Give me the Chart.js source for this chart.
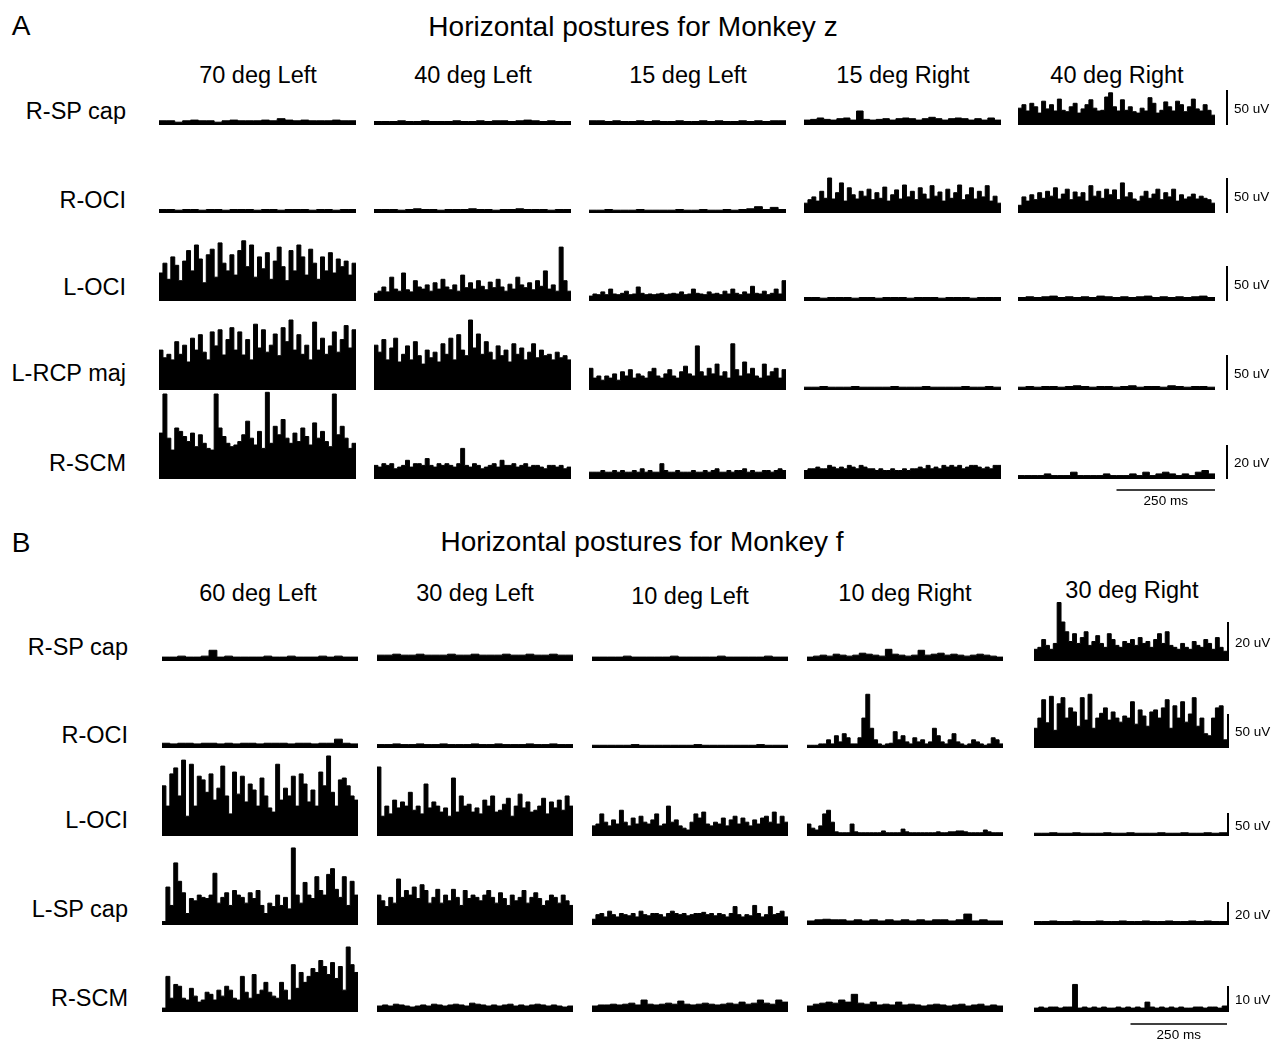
<!DOCTYPE html>
<html>
<head>
<meta charset="utf-8">
<script src="https://cdn.jsdelivr.net/npm/chart.js@4.4.1/dist/chart.umd.min.js"></script>
<style>
  body { margin: 0; background: #fff; }
  #fig { position: relative; width: 1274px; height: 1040px; overflow: hidden;
         font-family: "Liberation Sans", Arial, Helvetica, sans-serif; color: #000; }
  .c { position: absolute; white-space: nowrap; transform: translate(-50%, -50%); }
  .r { position: absolute; white-space: nowrap; transform: translate(-100%, -50%); }
  .l { position: absolute; white-space: nowrap; transform: translate(0, -50%); }
  canvas { position: absolute; }
</style>
</head>
<body>
<div id="fig"></div>
<script>
// ---- data (uV, one value per time bin, sweep = 500 ms) ----
const SWEEP_MS = 500;
const TIME_BAR_MS = 250;

const zTitle = "Horizontal postures for Monkey z";
const zPostures = ["70 deg Left", "40 deg Left", "15 deg Left", "15 deg Right", "40 deg Right"];
const zMuscles = ["R-SP cap", "R-OCI", "L-OCI", "L-RCP maj", "R-SCM"];
const zScaleUV = [50, 50, 50, 50, 20];

const fTitle = "Horizontal postures for Monkey f";
const fPostures = ["60 deg Left", "30 deg Left", "10 deg Left", "10 deg Right", "30 deg Right"];
const fMuscles = ["R-SP cap", "R-OCI", "L-OCI", "L-SP cap", "R-SCM"];
const fScaleUV = [20, 50, 50, 20, 10];

// Monkey z
const zRSPcap = [
  [6,6,4,6,7,6,6,4,6,7,6,6,6,7,6,9,7,6,7,6,6,6,7,6,6],
  [5,5,5,6,5,5,6,5,5,5,6,5,5,6,5,6,6,5,6,7,6,5,6,5,5],
  [6,6,5,6,5,5,6,5,6,5,5,6,5,5,6,5,6,5,5,6,5,6,5,6,6],
  [7,8,10,8,7,9,10,7,20,8,7,8,9,7,9,10,9,7,9,11,9,7,9,10,9,7,9,7,10,7],
  [24,29,20,31,26,17,34,23,29,20,37,21,19,26,31,17,23,29,36,24,20,21,40,46,26,20,36,21,26,19,17,24,20,39,31,17,21,33,26,20,34,29,19,26,37,23,20,29,21,14]
];
const zROCI = [
  [5,5,4,5,5,4,5,5,4,5,5,5,4,5,5,4,5,5,5,4,5,5,4,5,5],
  [5,5,5,4,5,6,5,5,4,5,5,5,6,5,5,4,5,5,6,5,5,5,4,5,5],
  [4,4,5,4,4,4,5,4,4,4,4,5,4,4,5,4,4,5,4,5,6,9,5,8,5],
  [14,19,23,17,31,21,50,20,29,43,17,36,26,20,31,24,34,19,29,21,37,17,26,33,20,40,23,31,19,36,27,20,39,24,30,17,34,21,29,40,19,26,36,20,31,23,39,17,24,14],
  [11,23,17,26,19,29,21,31,24,36,20,27,34,19,30,23,29,17,39,24,31,21,34,26,33,19,43,23,29,20,17,24,31,21,27,34,19,29,23,34,17,26,20,23,27,20,24,21,19,14]
];
const zLOCI = [
  [40,54,31,63,51,29,57,72,43,80,60,26,66,74,34,83,54,43,66,37,72,86,49,80,34,63,46,69,31,57,77,49,29,72,43,80,63,37,74,54,31,63,43,69,40,60,49,57,37,54],
  [11,14,20,13,34,17,14,40,16,13,29,20,17,23,14,26,17,31,20,16,23,14,37,19,26,17,29,21,16,27,19,31,20,14,24,17,34,23,19,26,16,29,21,43,17,23,14,77,29,14],
  [7,10,9,13,9,17,10,9,11,14,9,10,20,11,9,10,9,10,11,9,10,11,10,13,9,10,17,11,10,9,13,10,11,9,14,10,17,11,9,13,10,21,11,10,14,9,11,17,10,29],
  [5,5,4,5,5,5,4,5,5,4,5,5,5,4,5,5,5,4,5,5,5,4,5,5,5],
  [5,6,5,6,7,5,6,5,6,5,7,6,5,6,5,6,7,5,6,5,6,5,6,7,5]
];
const zLRCPmaj = [
  [57,46,51,43,69,51,64,40,74,57,79,54,43,83,63,86,50,72,89,57,83,50,72,43,94,60,86,54,64,80,49,89,69,100,57,79,51,64,43,97,57,74,51,63,83,54,72,92,60,86],
  [64,54,72,43,60,74,40,51,63,43,69,49,37,57,46,54,40,66,51,74,43,79,57,49,100,60,80,51,69,54,43,63,49,57,40,66,51,60,43,54,66,46,57,49,51,43,54,46,49,43],
  [31,17,20,14,20,17,23,14,26,20,29,17,23,20,17,26,31,20,17,23,29,20,17,26,34,23,20,63,26,20,31,23,37,20,26,17,66,29,20,40,23,31,20,17,37,20,26,31,17,29],
  [4,4,5,4,4,4,5,4,4,4,4,5,4,4,4,5,4,4,4,4,5,4,4,5,4],
  [4,5,4,5,5,4,5,6,5,4,5,5,4,5,6,4,5,5,4,6,5,4,5,5,4]
];
const zRSCM = [
  [27,50,24,17,30,28,25,22,27,19,26,21,18,17,50,30,25,21,19,20,22,26,34,24,20,28,18,51,21,31,26,35,24,21,27,22,30,25,20,33,24,28,22,19,50,26,31,24,18,21],
  [8,7,9,8,9,6,7,8,11,7,9,9,8,12,8,7,9,8,9,8,7,9,18,8,7,9,8,6,7,8,9,7,11,8,8,9,7,8,9,7,8,8,7,6,8,8,7,8,6,7],
  [4,4,4,5,4,4,5,4,5,4,4,5,4,6,4,5,4,4,9,5,4,4,5,4,4,4,5,4,4,5,4,5,6,4,4,5,4,5,5,6,4,5,4,4,5,5,4,5,6,5],
  [5,6,6,7,6,6,8,7,6,7,6,8,7,6,8,7,6,6,5,6,5,5,6,5,5,6,5,6,6,7,6,8,6,7,6,8,7,8,7,8,6,7,8,8,7,6,7,6,8,8],
  [2,2,2,2,3,2,2,2,4,2,2,2,2,3,2,2,2,3,2,4,2,3,4,3,2,3,2,4,5,3]
];

// Monkey f
const fRSPcap = [
  [2,2,2.5,2,2,2.5,5.5,2,2.5,2,2,2,2,2.5,2,2,2.5,2,2,2,2.5,2,2.5,2,2],
  [3,3,3.5,3,3,3.5,3,3,3,3.5,3,3,3.5,3,3,3,3.5,3,3,3.5,3,3,3.5,3,3],
  [2,2,2,2,2.5,2,2,2,2,2,2.5,2,2,2,2,2,2.5,2,2,2,2,2,2.5,2,2],
  [2,2.5,3,2.5,3.5,3,2.5,3,4,3.5,3,2.5,6,3.5,3,2.5,3,5.5,3,3.5,4,3,3.5,3,2.5,3,3.5,3,2.5,2],
  [6,7,11,8,6,9,30,20,15,10,14,9,12,15,8,10,13,9,7,14,11,8,7,10,9,11,8,12,9,10,7,11,14,9,15,8,7,6,9,7,6,10,8,7,11,9,6,12,7,5]
];
const fROCI = [
  [7,6,7,7,6,7,7,6,7,6,7,7,6,7,7,7,6,7,7,6,7,7,13,7,6],
  [5,5,6,5,5,6,5,5,6,5,5,5,6,5,5,6,5,5,5,6,5,5,6,5,5],
  [4,4,4,4,4,5,4,4,4,4,4,4,4,5,4,4,4,4,4,4,4,5,4,4,4],
  [4,4,4,6,6,12,6,18,9,21,15,6,6,15,44,79,29,12,6,4,6,7,24,12,18,9,6,15,9,12,6,9,29,18,9,6,12,21,9,6,4,6,12,9,6,4,6,15,12,6],
  [29,44,71,37,76,26,65,74,44,59,53,32,74,41,79,29,44,51,59,41,53,44,38,47,44,68,35,56,47,32,53,56,44,59,71,29,62,44,68,38,50,74,32,44,21,18,44,59,62,12]
];
const fLOCI = [
  [109,65,135,148,87,165,43,156,65,130,122,95,135,78,104,152,87,48,139,91,130,74,113,100,65,126,87,61,52,156,78,104,87,130,65,135,113,74,100,65,139,109,174,95,65,122,126,109,87,78],
  [150,43,65,48,78,61,74,65,95,56,65,48,113,61,74,65,52,61,43,126,52,87,65,69,52,61,48,78,65,87,52,56,69,82,43,65,91,61,74,52,56,65,82,48,74,61,78,56,87,65],
  [22,26,48,30,22,35,26,56,30,22,39,26,43,30,26,35,48,22,26,65,30,35,22,17,13,30,48,39,52,26,22,30,26,39,22,35,43,26,39,30,22,35,26,39,43,30,52,26,43,30],
  [26,17,13,22,48,56,30,9,7,7,7,26,9,7,7,7,7,7,7,11,7,7,7,7,15,9,7,7,7,7,7,7,7,9,7,7,9,9,11,11,9,7,7,7,7,13,9,7,7,7],
  [6,6,7,6,6,7,6,6,6,7,6,6,7,6,6,6,7,6,6,7,6,6,7,6,7]
];
const fLSPcap = [
  [3,33,17,54,38,28,10,23,21,26,24,23,26,45,19,24,28,17,30,26,24,19,28,23,30,17,10,19,16,26,17,24,14,67,26,19,37,26,23,42,30,26,44,49,31,24,42,17,38,26],
  [26,21,16,24,19,40,24,30,26,33,23,35,30,19,24,31,19,26,21,31,24,17,30,23,26,24,21,26,30,24,19,28,23,17,26,21,24,30,19,24,28,23,17,21,26,24,19,26,21,17],
  [5,9,10,7,12,9,7,10,9,8,10,7,12,9,8,10,10,9,7,10,12,10,9,10,8,9,10,10,11,9,10,8,10,9,7,10,16,9,7,9,8,17,10,7,9,16,9,10,12,7],
  [3.5,4.5,5,4.5,4.5,3.5,4.5,3.5,4.5,3.5,4.5,3.5,4.5,3.5,4.5,3.5,4.5,4.5,3.5,4.5,9.5,3.5,4.5,3.5,3.5],
  [3,3,3.5,3,3,3.5,3,3,3.5,3,3,3.5,3,3,3.5,3,3,3.5,3,3,3.5,3,3.5,3,3]
];
const fRSCM = [
  [1.5,13.7,5.3,10.6,9.9,5.3,4.6,9.1,6.1,3.8,4.6,7.6,6.8,4.6,8.4,6.1,9.9,8.4,5.3,4.6,13.7,7.6,5.3,14.4,6.8,8.4,11.4,7.6,6.1,5.3,11.4,8.4,4.6,18.2,9.1,15.2,11.4,13.7,16.7,15.2,19.8,17.5,14.4,19,12.9,17.5,8.4,25,18.2,15.2],
  [2.3,2.7,2.3,3,2.7,2.3,1.9,2.3,2.7,2.3,3,2.7,2.3,2.7,3,2.7,2.3,3.4,3,2.7,2.3,2.7,2.3,2.7,3,2.3,2.7,2.3,2.7,3,2.7,2.3,2.7,2.3,1.9,2.3],
  [2.3,2.7,2.7,3,2.7,3,3.4,2.7,4.6,3,2.7,3,3.4,3,4.2,3,2.7,3,3.4,3,2.7,3,3.4,3,3.8,3,3.4,4.6,3.4,3,4.6,3.8],
  [2.3,3,3.4,3.8,3.4,4.6,3.8,6.8,3.4,3,3.8,2.7,3,2.7,3.8,2.7,3,2.7,2.3,2.7,3,2.7,2.3,2.7,3,2.3,2.7,3,2.3,2.7,2.3],
  [1.5,1.9,1.5,1.9,1.9,1.5,1.9,1.9,10.6,1.5,1.9,1.5,1.9,1.5,1.9,1.5,1.5,1.9,1.5,1.9,1.5,1.9,1.5,3.8,1.9,1.5,1.9,1.5,1.9,1.5,1.9,1.5,1.5,1.9,1.9,1.5,1.9,1.9,1.5,2.3]
];

// ---- layout ----
const panels = [
  { letter: "A", letterY: 26, title: zTitle, titleX: 633, titleY: 27,
    postures: zPostures, headerX: [258, 473, 688, 903, 1117], headerY: [75, 75, 75, 75, 75],
    muscles: zMuscles, labelRight: 126, labelY: [111, 200, 287, 373, 463],
    rows: [zRSPcap, zROCI, zLOCI, zLRCPmaj, zRSCM], scaleUV: zScaleUV,
    cols: [[159, 356], [374, 571], [589, 786], [804, 1001], [1018, 1215]],
    baselines: [125, 213, 301, 390, 479], barPx: [35, 35, 35, 35, 34], barGap: 12, timeBarDy: 11 },
  { letter: "B", letterY: 543, title: fTitle, titleX: 642, titleY: 542,
    postures: fPostures, headerX: [258, 475, 690, 905, 1132], headerY: [593, 593, 596, 593, 590],
    muscles: fMuscles, labelRight: 128, labelY: [647, 735, 820, 909, 998],
    rows: [fRSPcap, fROCI, fLOCI, fLSPcap, fRSCM], scaleUV: fScaleUV,
    cols: [[162, 358], [377, 573], [592, 788], [807, 1003], [1034, 1227]],
    baselines: [661, 748, 836, 925, 1012], barPx: [39, 34, 23, 23, 26], barGap: 1, timeBarDy: 12 }
];
const CANVAS_H = 100;
const FONT = { letter: 28, title: 28, header: 23.5, label: 23.5, small: 13.5 };

const fig = document.getElementById("fig");

function text(cls, str, x, y, size) {
  const d = document.createElement("div");
  d.className = cls;
  d.textContent = str;
  d.style.left = x + "px";
  d.style.top = y + "px";
  d.style.fontSize = size + "px";
  fig.appendChild(d);
  return d;
}

// draws the uV scale bar and the time bar from the chart's own scales
const scaleBars = {
  id: "scaleBars",
  afterDraw(chart, args, o) {
    if (!o.uv) return;
    const { ctx, chartArea: a, scales: { x, y } } = chart;
    ctx.save();
    ctx.strokeStyle = "#000";
    ctx.lineWidth = 2;
    const bx = a.right + o.gap;
    ctx.beginPath();
    ctx.moveTo(bx, y.getPixelForValue(0));
    ctx.lineTo(bx, y.getPixelForValue(o.uv));
    ctx.stroke();
    if (o.ms) {
      const ty = y.getPixelForValue(0) + o.dy;
      ctx.lineWidth = 1.5;
      ctx.beginPath();
      ctx.moveTo(x.getPixelForValue(SWEEP_MS - o.ms), ty);
      ctx.lineTo(x.getPixelForValue(SWEEP_MS), ty);
      ctx.stroke();
    }
    ctx.restore();
  }
};

function trace(p, r, c) {
  const values = p.rows[r][c];
  const [x0, x1] = p.cols[c];
  const w = x1 - x0;
  const last = c === 4;
  const timeBar = last && r === 4;
  const padR = last ? 20 : 0;
  const padB = timeBar ? 20 : 0;
  const yMax = p.scaleUV[r] * CANVAS_H / p.barPx[r];

  const cv = document.createElement("canvas");
  cv.width = w + padR;
  cv.height = CANVAS_H + padB;
  cv.style.width = cv.width + "px";
  cv.style.height = cv.height + "px";
  cv.style.left = x0 + "px";
  cv.style.top = (p.baselines[r] - CANVAS_H) + "px";
  fig.appendChild(cv);

  const dt = SWEEP_MS / values.length;
  const pts = values.map((v, i) => ({ x: i * dt, y: v }));
  pts.push({ x: SWEEP_MS, y: values[values.length - 1] });

  new Chart(cv, {
    type: "line",
    data: {
      datasets: [{
        data: pts,
        stepped: true,
        fill: "origin",
        borderColor: "#000",
        backgroundColor: "#000",
        borderWidth: 1,
        pointRadius: 0,
        clip: false,
      }]
    },
    options: {
      responsive: false,
      animation: false,
      events: [],
      layout: { padding: { left: 0, top: 0, right: padR, bottom: padB } },
      plugins: {
        legend: { display: false },
        tooltip: { enabled: false },
        scaleBars: last ? { uv: p.scaleUV[r], gap: p.barGap, ms: timeBar ? TIME_BAR_MS : 0, dy: p.timeBarDy } : {},
      },
      scales: {
        x: { type: "linear", min: 0, max: SWEEP_MS, display: false },
        y: { min: 0, max: yMax, display: false },
      },
    },
    plugins: [scaleBars],
  });

  if (last) {
    text("l", p.scaleUV[r] + " uV", x1 + p.barGap + 7, p.baselines[r] - p.barPx[r] / 2, FONT.small);
  }
  if (timeBar) {
    const mid = x0 + w * (SWEEP_MS - TIME_BAR_MS / 2) / SWEEP_MS;
    text("c", TIME_BAR_MS + " ms", mid, p.baselines[r] + p.timeBarDy + 10, FONT.small);
  }
}

panels.forEach(p => {
  text("c", p.letter, 21, p.letterY, FONT.letter);
  text("c", p.title, p.titleX, p.titleY, FONT.title);
  p.postures.forEach((s, c) => text("c", s, p.headerX[c], p.headerY[c], FONT.header));
  p.muscles.forEach((s, r) => text("r", s, p.labelRight, p.labelY[r], FONT.label));
  p.rows.forEach((row, r) => row.forEach((_, c) => trace(p, r, c)));
});
</script>
</body>
</html>
